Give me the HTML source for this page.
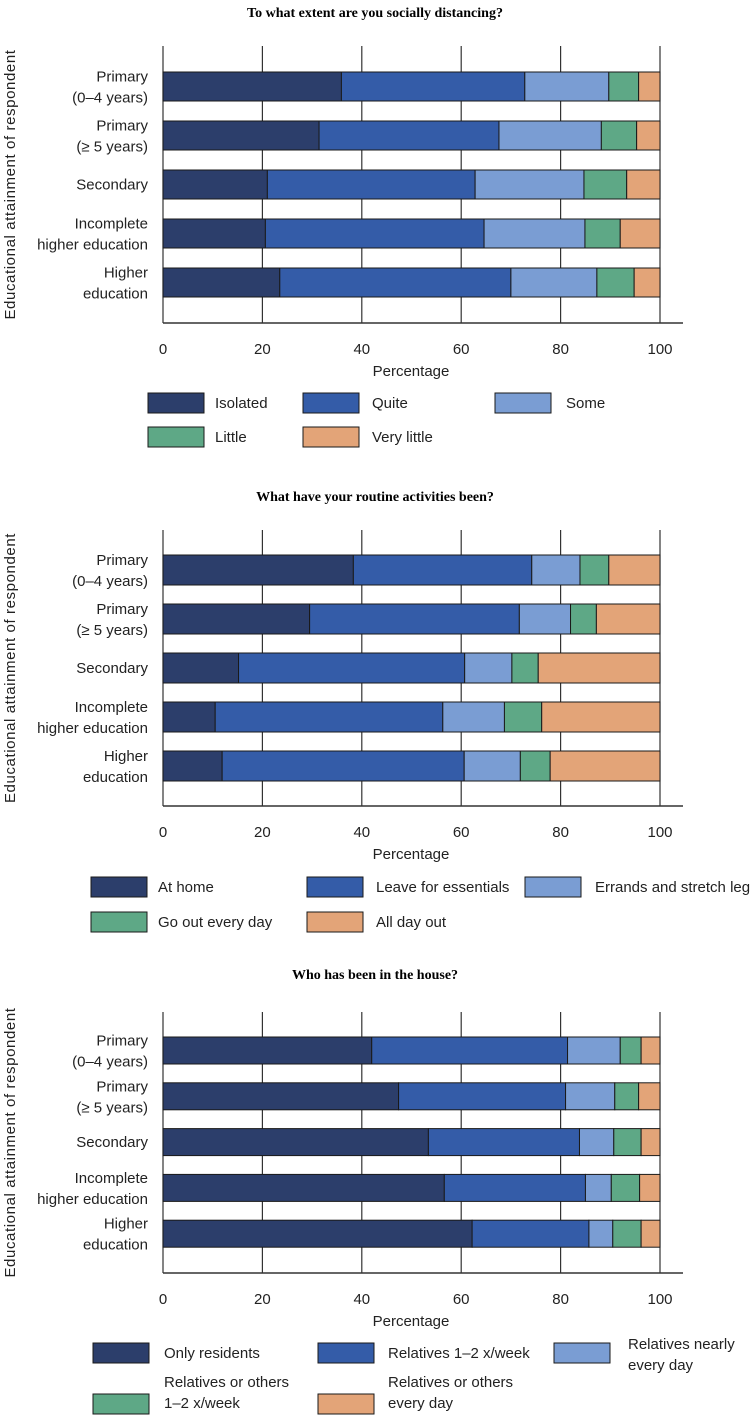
<!DOCTYPE html>
<html><head><meta charset="utf-8">
<style>
html,body{margin:0;padding:0;background:#fff;}
svg{display:block;font-family:"Liberation Sans",sans-serif;}
</style></head>
<body>
<svg id="chart" width="750" height="1419" viewBox="0 0 750 1419" xmlns="http://www.w3.org/2000/svg"></svg>
<script>
const categories = [["Primary","(0–4 years)"],["Primary","(≥ 5 years)"],["Secondary"],["Incomplete","higher education"],["Higher","education"]];
const ticks = [0,20,40,60,80,100];
const colors = ["#2c3e6b","#345ca8","#7a9dd3","#5ea886","#e3a478"];

const p1Title = "To what extent are you socially distancing?";
const p1Series = ["Isolated","Quite","Some","Little","Very little"];
const p1Isolated = [35.9,31.4,21.0,20.6,23.5];
const p1Quite = [36.9,36.2,41.8,44.0,46.5];
const p1Some = [16.9,20.6,21.9,20.3,17.3];
const p1Little = [6.0,7.1,8.6,7.1,7.5];
const p1VeryLittle = [4.3,4.7,6.7,8.0,5.2];

const p2Title = "What have your routine activities been?";
const p2Series = ["At home","Leave for essentials","Errands and stretch legs","Go out every day","All day out"];
const p2AtHome = [38.3,29.5,15.2,10.5,11.9];
const p2Essentials = [35.9,42.2,45.5,45.8,48.7];
const p2Errands = [9.7,10.3,9.5,12.4,11.3];
const p2GoOut = [5.8,5.2,5.3,7.5,6.0];
const p2AllDay = [10.3,12.8,24.5,23.8,22.1];

const p3Title = "Who has been in the house?";
const p3Series = [["Only residents"],["Relatives 1–2 x/week"],["Relatives nearly","every day"],["Relatives or others","1–2 x/week"],["Relatives or others","every day"]];
const p3Residents = [42.0,47.4,53.4,56.6,62.2];
const p3Rel12 = [39.4,33.6,30.4,28.4,23.5];
const p3RelNearly = [10.6,9.9,6.9,5.2,4.8];
const p3Others12 = [4.2,4.8,5.5,5.7,5.7];
const p3OthersDaily = [3.8,4.3,3.8,4.1,3.8];

const NS = "http://www.w3.org/2000/svg";
const svg = document.getElementById("chart");
function mk(tag, attrs, parent){const e=document.createElementNS(NS,tag);for(const k in attrs)e.setAttribute(k,attrs[k]);(parent||svg).appendChild(e);return e;}
const X0=163, X1=660;
function xs(v){return X0+(X1-X0)*v/100;}

function panel(cfg){
  const g=mk("g",{});
  
  
  const t=mk("text",{x:375,y:cfg.titleY,"text-anchor":"middle","font-size":14,"font-weight":"bold","font-family":"Liberation Serif, serif"},g);
  t.textContent=cfg.title;
  
  
  ticks.forEach(v=>{
    const l=mk("line",{x1:xs(v),x2:xs(v),y1:cfg.gridTop,y2:cfg.axisY,stroke:"#333","stroke-width":1.2},g);
    
    
    const tl=mk("text",{x:xs(v),y:cfg.axisY+31,"text-anchor":"middle","font-size":15,fill:"#222"},g);
    tl.textContent=v;
    
    
  });
  const ax=mk("line",{x1:X0,x2:683,y1:cfg.axisY,y2:cfg.axisY,stroke:"#333","stroke-width":1.5},g);
  
  
  const xt=mk("text",{x:411,y:cfg.axisY+53,"text-anchor":"middle","font-size":15,fill:"#222"},g);
  xt.textContent="Percentage";
  
  
  const cy=(cfg.gridTop+cfg.axisY)/2;
  const yt=mk("text",{x:0,y:0,"text-anchor":"middle","font-size":15,fill:"#222","letter-spacing":"0.6",transform:`translate(15,${cy}) rotate(-90)`},g);
  yt.textContent="Educational attainment of respondent";
  
  
  categories.forEach((c,i)=>{
    const top=cfg.barTop+i*cfg.step, mid=top+cfg.barH/2;
    const lt=mk("text",{x:148,"text-anchor":"end","font-size":15,fill:"#222"},g);
    
    
    if(c.length===1){const s=mk("tspan",{x:148,y:mid+5},lt);s.textContent=c[0];}
    else{const s1=mk("tspan",{x:148,y:mid-5},lt);s1.textContent=c[0];const s2=mk("tspan",{x:148,y:mid+16},lt);s2.textContent=c[1];}
    let acc=0;
    cfg.data.forEach((arr,j)=>{
      const r=mk("rect",{x:xs(acc),y:top,width:xs(acc+arr[i])-xs(acc),height:cfg.barH,fill:colors[j],stroke:"#1a1a1a","stroke-width":1},g);
      
      
      acc+=arr[i];
    });
  });
  cfg.legend.forEach((it,k)=>{
    const row=k<3?0:1,col=k%3;
    const bx=cfg.legX[col], by=cfg.legY[row];
    const b=mk("rect",{x:bx,y:by,width:56,height:20,fill:colors[k],stroke:"#1a1a1a","stroke-width":1},g);
    
    
    const lt=mk("text",{"font-size":15,fill:"#222"},g);
    
    
    const lines=Array.isArray(it)?it:[it];
    const tx=cfg.legTX[col];
    if(lines.length===1){const s=mk("tspan",{x:tx,y:by+15},lt);s.textContent=lines[0];}
    else{
      const off=row===0?6:-7;
      const s1=mk("tspan",{x:tx,y:by+off},lt);s1.textContent=lines[0];
      const s2=mk("tspan",{x:tx,y:by+off+21},lt);s2.textContent=lines[1];
    }
  });
}

panel({name:"panel-social-distancing",title:p1Title,titleY:17,gridTop:46,axisY:323,barTop:72,barH:29,step:49,
  data:[p1Isolated,p1Quite,p1Some,p1Little,p1VeryLittle],legend:p1Series,
  legX:[148,303,495],legTX:[215,372,566],legY:[393,427]});
panel({name:"panel-routine-activities",title:p2Title,titleY:501,gridTop:530,axisY:806,barTop:555,barH:30,step:49,
  data:[p2AtHome,p2Essentials,p2Errands,p2GoOut,p2AllDay],legend:p2Series,
  legX:[91,307,525],legTX:[158,376,595],legY:[877,912]});
panel({name:"panel-house-visitors",title:p3Title,titleY:979,gridTop:1012,axisY:1273,barTop:1037,barH:27,step:45.8,
  data:[p3Residents,p3Rel12,p3RelNearly,p3Others12,p3OthersDaily],legend:p3Series,
  legX:[93,318,554],legTX:[164,388,628],legY:[1343,1394]});
</script>
</body></html>
